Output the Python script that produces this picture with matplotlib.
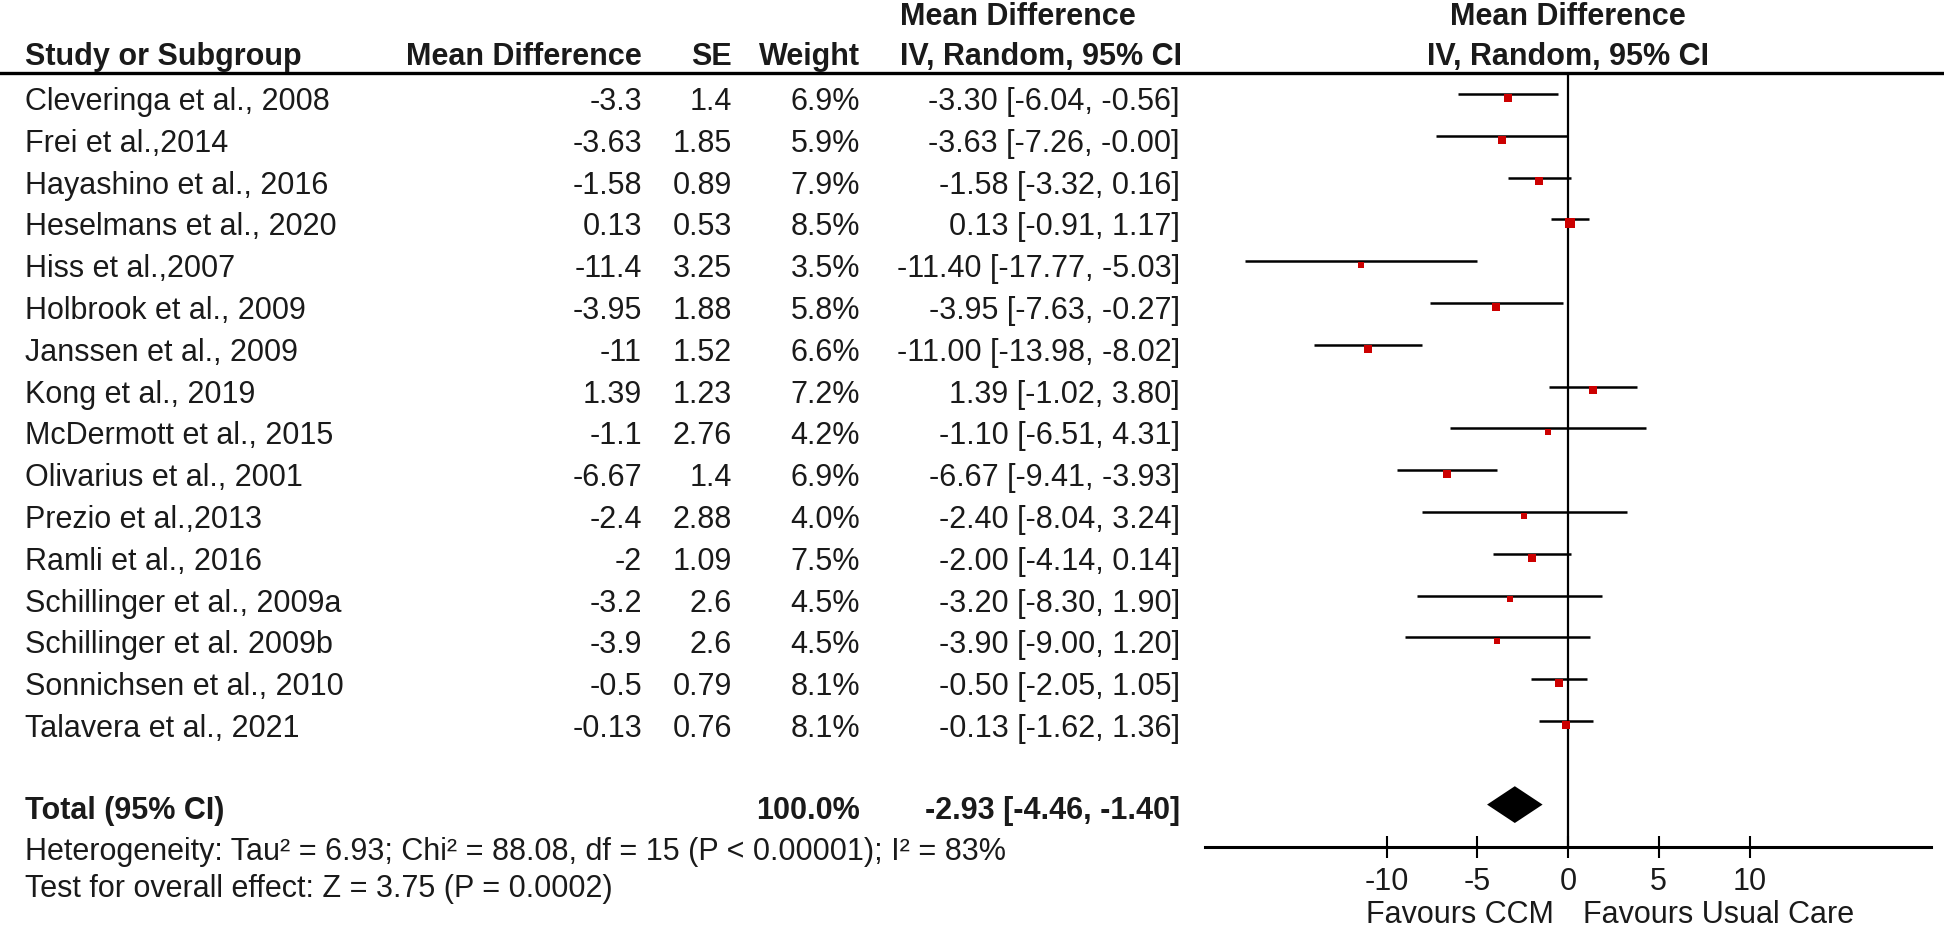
import matplotlib
matplotlib.use("Agg")
import matplotlib.pyplot as plt
from matplotlib.transforms import blended_transform_factory
from matplotlib.lines import Line2D

plt.rcParams['font.family'] = ['Liberation Sans', 'DejaVu Sans']

# ---------------- data ----------------
studies = [
    "Cleveringa et al., 2008", "Frei et al.,2014", "Hayashino et al., 2016",
    "Heselmans et al., 2020", "Hiss et al.,2007", "Holbrook et al., 2009",
    "Janssen et al., 2009", "Kong et al., 2019", "McDermott et al., 2015",
    "Olivarius et al., 2001", "Prezio et al.,2013", "Ramli et al., 2016",
    "Schillinger et al., 2009a", "Schillinger et al. 2009b",
    "Sonnichsen et al., 2010", "Talavera et al., 2021",
]
mean_diff = [-3.3, -3.63, -1.58, 0.13, -11.4, -3.95, -11, 1.39, -1.1, -6.67,
             -2.4, -2, -3.2, -3.9, -0.5, -0.13]
se = [1.4, 1.85, 0.89, 0.53, 3.25, 1.88, 1.52, 1.23, 2.76, 1.4, 2.88, 1.09,
      2.6, 2.6, 0.79, 0.76]
weight = [6.9, 5.9, 7.9, 8.5, 3.5, 5.8, 6.6, 7.2, 4.2, 6.9, 4.0, 7.5, 4.5,
          4.5, 8.1, 8.1]
ci_low = [-6.04, -7.26, -3.32, -0.91, -17.77, -7.63, -13.98, -1.02, -6.51,
          -9.41, -8.04, -4.14, -8.30, -9.00, -2.05, -1.62]
ci_high = [-0.56, -0.004, 0.16, 1.17, -5.03, -0.27, -8.02, 3.80, 4.31, -3.93,
           3.24, 0.14, 1.90, 1.20, 1.05, 1.36]
total_md, total_low, total_high = -2.93, -4.46, -1.40
total_weight = 100.0
heterogeneity = "Heterogeneity: Tau\u00b2 = 6.93; Chi\u00b2 = 88.08, df = 15 (P < 0.00001); I\u00b2 = 83%"
overall = "Test for overall effect: Z = 3.75 (P = 0.0002)"
xticks = [-10, -5, 0, 5, 10]
left_label = "Favours CCM"
right_label = "Favours Usual Care"

# ---------------- layout ----------------
W, H = 1944, 929
fig = plt.figure(figsize=(W / 100, H / 100), dpi=100)
TXT = '#1a1a1a'
FS = 22

row0_px, row_px = 95.0, 41.8
top_px, axis_px = 74.0, 848.0
ax = fig.add_axes([1205 / W, 1 - axis_px / H, (1931 - 1205) / W, (axis_px - top_px) / H])
ax.set_xlim(-20, 20)
ax.set_ylim((axis_px - row0_px) / row_px, (top_px - row0_px) / row_px)

for s in ['top', 'left', 'right']:
    ax.spines[s].set_visible(False)
ax.spines['bottom'].set_linewidth(2.2)
ax.set_yticks([])
ax.set_xticks(xticks)
ax.set_xticklabels([str(t) for t in xticks])
ax.tick_params(axis='x', direction='inout', length=16, width=1.5, pad=5.5,
               labelsize=FS, labelcolor=TXT)

ax.axvline(0, color='black', lw=1.6, zorder=1)

rows = list(range(len(studies)))
for i in rows:
    ax.plot([ci_low[i], ci_high[i]], [i, i], color='black', lw=1.8,
            solid_capstyle='butt', zorder=2)
    ax.plot(mean_diff[i], i + 0.09, marker='s', linestyle='none',
            color='#cc0000', markersize=(4.5 + 0.55 * weight[i]) * 0.72,
            zorder=3, markeredgewidth=0)

total_row = 17
dh = 0.44
ax.fill([total_low, total_md, total_high, total_md],
        [total_row, total_row - dh, total_row, total_row + dh],
        color='black', zorder=3, lw=0)

ax.text(-0.8, 19.81, left_label, ha='right', va='baseline', fontsize=FS, color=TXT, clip_on=False)
ax.text(0.8, 19.81, right_label, ha='left', va='baseline', fontsize=FS, color=TXT, clip_on=False)

# header line across the full width
fig.add_artist(Line2D([0, 1], [1 - top_px / H] * 2, transform=fig.transFigure,
                      color='black', lw=2.4))

tr = blended_transform_factory(fig.transFigure, ax.transData)

def t(xpx, y, s, ha='left', bold=False):
    fig.text(xpx / W, y, s, transform=tr, ha=ha, va='baseline', fontsize=FS,
             color=TXT, fontweight='bold' if bold else 'normal')

h1, h2 = -1.68, -0.72
t(25, h2, "Study or Subgroup", bold=True)
t(642, h2, "Mean Difference", ha='right', bold=True)
t(732, h2, "SE", ha='right', bold=True)
t(860, h2, "Weight", ha='right', bold=True)
t(900, h1, "Mean Difference", bold=True)
t(900, h2, "IV, Random, 95% CI", bold=True)
ax.text(0, h1, "Mean Difference", ha='center', va='baseline', fontsize=FS,
        color=TXT, fontweight='bold', clip_on=False)
ax.text(0, h2, "IV, Random, 95% CI", ha='center', va='baseline', fontsize=FS,
        color=TXT, fontweight='bold', clip_on=False)

off = 0.36
for i in rows:
    y = i + off
    t(25, y, studies[i])
    t(642, y, f"{mean_diff[i]:g}", ha='right')
    t(732, y, f"{se[i]:g}", ha='right')
    t(860, y, f"{weight[i]:.1f}%", ha='right')
    t(1180, y, f"{mean_diff[i]:.2f} [{ci_low[i]:.2f}, {ci_high[i]:.2f}]", ha='right')

yt = total_row + 0.32
t(25, yt, "Total (95% CI)", bold=True)
t(860, yt, f"{total_weight:.1f}%", ha='right', bold=True)
t(1180, yt, f"{total_md:.2f} [{total_low:.2f}, {total_high:.2f}]", ha='right', bold=True)
t(25, 18.30, heterogeneity)
t(25, 19.18, overall)

fig.savefig("out.png", dpi=100)
